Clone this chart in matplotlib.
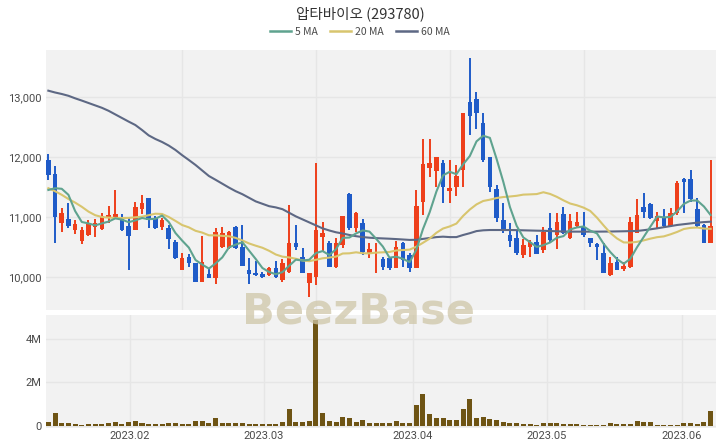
import matplotlib
matplotlib.use("Agg")
import matplotlib.pyplot as plt
from matplotlib.lines import Line2D
import numpy as np
import pandas as pd

plt.rcParams['font.family'] = ['Noto Sans CJK KR', 'DejaVu Sans']

title = "압타바이오 (293780)"

opens = [11950, 11717, 10900, 10967, 10783, 10600, 10700, 10833, 10800, 10983,
         11000, 10983, 10850, 10783, 11133, 11317, 10983, 10833, 10817, 10583,
         10117, 10333, 10233, 9917, 10050, 9983, 10500, 10483, 10833, 10500,
         10117, 10067, 10050, 10033, 10150, 9950, 10089, 10561, 10339, 9906,
         10006, 10672, 10561, 10172, 10533, 11383, 10811, 10894, 10394, 10394,
         10294, 10311, 10144, 10561, 10367, 10144, 11256, 11811, 11772, 11894,
         11439, 11506, 11783, 12922, 12961, 12561, 12006, 11461, 10950, 10700,
         10644, 10367, 10506, 10589, 10450, 10811, 10700, 11050, 10644, 10850,
         10839, 10644, 10550, 10394, 10033, 10256, 10128, 10161, 10739, 11161,
         11217, 10939, 10994, 10850, 11061, 11628, 11633, 11128, 10867, 10572]
highs = [12050, 11850, 11150, 11233, 10950, 10833, 10950, 10967, 11067, 11183,
         11450, 11050, 10983, 11250, 11367, 11317, 11017, 10978, 10867, 10617,
         10394, 10383, 10233, 10683, 10144, 10817, 10833, 10761, 10850, 10867,
         10317, 10267, 10089, 10172, 10267, 10294, 11200, 10867, 10478, 10072,
         11894, 10922, 10606, 10644, 11017, 11394, 11089, 10961, 10561, 10561,
         10339, 10339, 10606, 10589, 10394, 11450, 12294, 12294, 12006, 11950,
         11950, 11867, 12728, 13644, 13089, 12728, 12006, 11533, 11228, 10906,
         10783, 10628, 10617, 10700, 10839, 11061, 11061, 11172, 11050, 11089,
         11089, 10644, 10572, 10561, 10328, 10339, 10256, 11006, 11294, 11394,
         11239, 11089, 11128, 11144, 11606, 11650, 11783, 11311, 10883, 11950]
lows = [11617, 10567, 10750, 10817, 10717, 10550, 10683, 10667, 10783, 10900,
        11000, 10767, 10117, 10783, 11050, 10817, 10794, 10783, 10467, 10294,
        10117, 10167, 9911, 9917, 9978, 9883, 10483, 10461, 10461, 10183,
        9883, 10017, 9978, 10017, 9978, 9922, 10061, 10450, 10072, 9672,
        9867, 10422, 10172, 10150, 10478, 10783, 10756, 10367, 10311, 10061,
        10117, 10117, 10144, 10172, 10089, 10144, 11033, 11672, 11506, 11228,
        11239, 11350, 11506, 12367, 12461, 11922, 11422, 10922, 10728, 10506,
        10367, 10311, 10339, 10383, 10406, 10589, 10461, 10717, 10628, 10839,
        10672, 10506, 10283, 10072, 10017, 10117, 10106, 10144, 10739, 10978,
        10961, 10811, 10811, 10839, 11033, 11067, 11256, 10839, 10572, 10572]
closes = [11700, 11000, 11067, 10850, 10883, 10783, 10883, 10900, 11017, 11033,
          11050, 10783, 10683, 11167, 11233, 10950, 10817, 10950, 10633, 10317,
          10317, 10233, 9917, 10250, 9983, 10750, 10733, 10750, 10483, 10183,
          10050, 10033, 10000, 10150, 10000, 10228, 10561, 10506, 10072, 10072,
          10783, 10728, 10172, 10561, 11017, 10811, 11072, 10422, 10461, 10422,
          10161, 10144, 10506, 10283, 10144, 11183, 11883, 11906, 11994, 11506,
          11478, 11683, 12728, 12683, 12728, 11950, 11506, 10978, 10783, 10606,
          10394, 10533, 10589, 10383, 10756, 10617, 10922, 10728, 10939, 10922,
          10700, 10572, 10506, 10072, 10228, 10117, 10183, 10922, 11033, 11089,
          10978, 11017, 10850, 11072, 11561, 11589, 11300, 10850, 10572, 10850]
volumes_m = [0.20, 0.60, 0.15, 0.13, 0.08, 0.05, 0.08, 0.10, 0.10, 0.12,
             0.20, 0.10, 0.20, 0.25, 0.12, 0.10, 0.08, 0.08, 0.15, 0.13,
             0.10, 0.08, 0.25, 0.22, 0.12, 0.35, 0.15, 0.14, 0.12, 0.12,
             0.10, 0.10, 0.10, 0.10, 0.10, 0.18, 0.77, 0.20, 0.20, 0.22,
             4.85, 0.58, 0.22, 0.20, 0.40, 0.35, 0.20, 0.30, 0.12, 0.15,
             0.15, 0.12, 0.25, 0.15, 0.15, 0.98, 1.45, 0.55, 0.35, 0.35,
             0.30, 0.30, 0.78, 1.23, 0.38, 0.40, 0.33, 0.28, 0.18, 0.15,
             0.15, 0.10, 0.08, 0.07, 0.12, 0.12, 0.15, 0.10, 0.10, 0.08,
             0.06, 0.06, 0.06, 0.07, 0.15, 0.10, 0.08, 0.10, 0.22, 0.20,
             0.18, 0.05, 0.05, 0.05, 0.05, 0.15, 0.12, 0.10, 0.20, 0.70]
ma5_head = [11450, 11480, 11470, 11370]
ma20_head = [11480, 11430, 11370, 11300, 11240, 11170, 11090, 11030, 11000, 10990,
             10985, 10983, 10985, 10995, 11005, 11030, 11055, 11050, 11000]
ma60 = [13105, 13075, 13050, 13020, 12978, 12940, 12900, 12860, 12820, 12770,
        12710, 12650, 12590, 12533, 12450, 12360, 12300, 12250, 12190, 12117,
        12030, 11950, 11867, 11775, 11683, 11620, 11555, 11490, 11430, 11380,
        11320, 11260, 11220, 11180, 11160, 11130, 11070, 11010, 10960, 10910,
        10860, 10810, 10775, 10745, 10725, 10700, 10680, 10665, 10655, 10648,
        10643, 10638, 10632, 10625, 10618, 10620, 10635, 10650, 10665, 10672,
        10665, 10665, 10700, 10730, 10765, 10778, 10783, 10783, 10783, 10783,
        10781, 10778, 10775, 10772, 10770, 10766, 10762, 10758, 10756, 10756,
        10756, 10756, 10756, 10757, 10758, 10760, 10762, 10765, 10767, 10780,
        10795, 10811, 10830, 10848, 10867, 10880, 10893, 10906, 10915, 10922]
month_labels = ["2023.02", "2023.03", "2023.04", "2023.05", "2023.06"]
month_pos = [12.2, 32.2, 54.5, 74.5, 94.7]
price_ticks = [10000, 11000, 12000, 13000]
vol_ticks = [0, 2, 4]
vol_tick_labels = ["0", "2M", "4M"]

df = pd.DataFrame({"o": opens, "h": highs, "l": lows, "c": closes, "v": volumes_m})
idx = np.arange(len(df))
ma5 = df["c"].rolling(5).mean().to_numpy()
ma5[:len(ma5_head)] = ma5_head
ma20 = df["c"].rolling(20).mean().to_numpy()
ma20[:len(ma20_head)] = ma20_head

UP = '#EE3F1B'
DOWN = '#1F5BC8'
C5 = '#5FA38F'
C20 = '#D8C56E'
C60 = '#5D6884'
VOL = '#6E5414'
BG = '#F2F2F2'
GRID = '#E6E6E6'
TXT = '#4a4a4a'

fig = plt.figure(figsize=(7.2, 4.48), dpi=100)
fig.patch.set_facecolor('white')
ax = fig.add_axes([46/720, 1-310/448, 670/720, 260/448])
axv = fig.add_axes([46/720, 1-428/448, 670/720, 113/448])

for a in (ax, axv):
    a.set_facecolor(BG)
    for s in a.spines.values():
        s.set_visible(False)
    a.set_xlim(-0.35, 99.8)
    a.tick_params(length=0, colors=TXT, labelsize=8)

# Candles
up = df["c"] >= df["o"]
colors = np.where(up, UP, DOWN)
body_bottom = np.minimum(df["o"], df["c"])
body_h = np.abs(df["c"] - df["o"]).clip(lower=15)
ax.vlines(idx, df["l"], df["h"], colors=colors, linewidth=1.4, zorder=3)
ax.bar(idx, body_h, bottom=body_bottom, width=0.68, color=colors, zorder=4, linewidth=0)

ax.plot(idx, ma60, color=C60, lw=1.5, zorder=5)
ax.plot(idx, ma20, color=C20, lw=1.5, zorder=5)
ax.plot(idx, ma5, color=C5, lw=1.5, zorder=5)

ax.set_ylim(9450, 13783)
ax.set_yticks(price_ticks)
ax.set_yticklabels([f"{t:,}" for t in price_ticks], family=['Roboto', 'DejaVu Sans'])
ax.set_xticks([20, 40, 60, 80])
ax.set_xticklabels([])
ax.grid(True, color=GRID, lw=1)
ax.set_axisbelow(True)

axv.bar(idx, df["v"], width=0.75, color=VOL, zorder=3, linewidth=0)
axv.set_ylim(-0.09, 5.1)
axv.set_yticks(vol_ticks)
axv.set_yticklabels(vol_tick_labels, family=['Roboto', 'DejaVu Sans'])
axv.set_xticks(month_pos)
axv.set_xticklabels(month_labels, family=['Roboto', 'DejaVu Sans'])
axv.tick_params(axis='x', pad=2)
axv.grid(True, color=GRID, lw=1)
axv.set_axisbelow(True)

fig.text(0.5, 1-14/448, title, ha='center', va='center', fontsize=10.5, color='#333333')

handles = [Line2D([0], [0], color=C5, lw=1.8),
           Line2D([0], [0], color=C20, lw=1.8),
           Line2D([0], [0], color=C60, lw=1.8)]
leg = fig.legend(handles, ["5 MA", "20 MA", "60 MA"], loc='center', bbox_to_anchor=(0.5, 1-32/448),
                 ncol=3, frameon=False, fontsize=7.5, handlelength=2.0, columnspacing=1.2,
                 handletextpad=0.4, labelcolor=TXT)

fig.text(358/720, 1-312/448, "BeezBase", ha='center', va='center', fontsize=31, fontweight='bold',
         color='#CFC6A8', alpha=0.75, family=['DejaVu Sans'], zorder=10)

fig.savefig("out.png", dpi=100, facecolor='white')
